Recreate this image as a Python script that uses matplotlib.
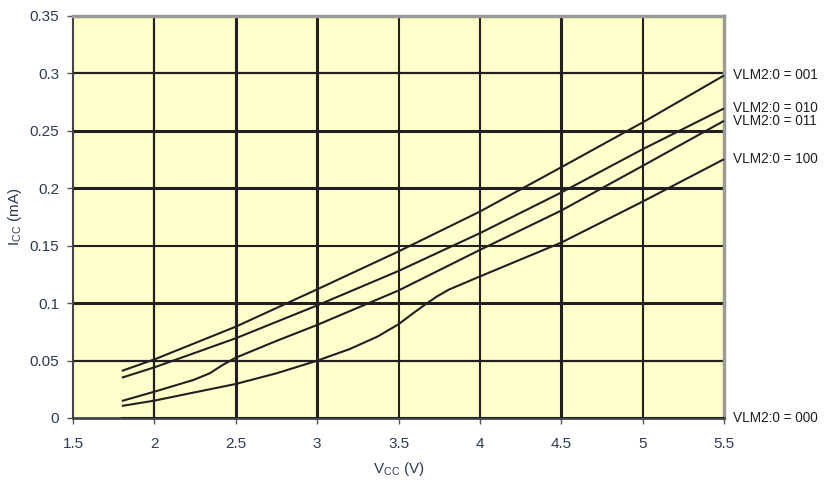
import matplotlib
matplotlib.use("Agg")
import matplotlib.pyplot as plt
from matplotlib.ticker import FixedLocator

# Data
vcc_001 = [1.8, 2.0, 2.5, 3.0, 3.5, 4.0, 4.5, 5.0, 5.5]
icc_001 = [0.041, 0.051, 0.0795, 0.112, 0.145, 0.1797, 0.2183, 0.2573, 0.2982]
vcc_010 = [1.8, 2.0, 2.5, 3.0, 3.5, 4.0, 4.5, 5.0, 5.5]
icc_010 = [0.0351, 0.0441, 0.0694, 0.098, 0.128, 0.1609, 0.1963, 0.234, 0.2695]
vcc_011 = [1.8, 2.0, 2.24, 2.34, 2.42, 2.5, 2.75, 3.0, 3.5, 4.0, 4.5, 5.0, 5.5]
icc_011 = [0.0148, 0.0229, 0.0331, 0.0389, 0.0462, 0.0525, 0.0671, 0.081, 0.111, 0.1463, 0.1806, 0.2195, 0.2587]
vcc_100 = [1.8, 2.0, 2.24, 2.5, 2.75, 3.0, 3.2, 3.37, 3.5, 3.59, 3.66, 3.735, 3.81, 4.0, 4.5, 5.0, 5.5]
icc_100 = [0.0105, 0.0151, 0.0221, 0.0296, 0.0389, 0.0499, 0.060, 0.0708, 0.0816, 0.0912, 0.0984, 0.1057, 0.1118, 0.1232, 0.1527, 0.1884, 0.2253]
vcc_000 = [1.8, 5.5]
icc_000 = [0, 0]
series_labels = ["VLM2:0 = 001", "VLM2:0 = 010", "VLM2:0 = 011", "VLM2:0 = 100", "VLM2:0 = 000"]
x_ticks = [1.5, 2, 2.5, 3, 3.5, 4, 4.5, 5, 5.5]
x_tick_labels = ["1.5", "2", "2.5", "3", "3.5", "4", "4.5", "5", "5.5"]
y_ticks = [0, 0.05, 0.1, 0.15, 0.2, 0.25, 0.3, 0.35]
y_tick_labels = ["0", "0.05", "0.1", "0.15", "0.2", "0.25", "0.3", "0.35"]

fig = plt.figure(figsize=(8.28, 4.84), dpi=100)
ax = fig.add_axes([0.0882, 0.1364, 0.7862, 0.8306])
ax.set_facecolor("#FFFFCC")
ax.set_xlim(1.5, 5.5)
ax.set_ylim(0, 0.35)

grid_col = "#231F20"
# vertical grid lines (varying weights as in the reference)
vwidths = {2: 1.6, 2.5: 2.2, 3: 2.2, 3.5: 1.5, 4: 1.5, 4.5: 2.2, 5: 1.5}
for xv, w in vwidths.items():
    ax.axvline(xv, color=grid_col, lw=w, zorder=1)
hwidths = {0.05: 1.6, 0.1: 2.2, 0.15: 1.5, 0.2: 2.2, 0.25: 2.2, 0.3: 1.6}
for yv, w in hwidths.items():
    ax.axhline(yv, color=grid_col, lw=w, zorder=1)

lc = "#231F20"
lw = 1.5
for xs, ys in [(vcc_001, icc_001), (vcc_010, icc_010), (vcc_011, icc_011), (vcc_100, icc_100)]:
    ax.plot(xs, ys, color=lc, lw=lw, zorder=3, clip_on=False,
            solid_joinstyle="round", solid_capstyle="butt")
ax.plot(vcc_000, icc_000, color=lc, lw=lw, zorder=3)

ends = [icc_001[-1], icc_010[-1], icc_011[-1], icc_100[-1], icc_000[-1]]
for lab, yv in zip(series_labels, ends):
    ax.annotate(lab, xy=(5.5, yv), xytext=(6.5, 0), textcoords="offset points",
                va="center", ha="left", fontsize=9.8, color="#231F20",
                family="Liberation Sans", annotation_clip=False)

ax.xaxis.set_major_locator(FixedLocator(x_ticks))
ax.set_xticklabels(x_tick_labels)
ax.yaxis.set_major_locator(FixedLocator(y_ticks))
ax.set_yticklabels(y_tick_labels)
tick_col = "#2B3A55"
ax.tick_params(axis="both", direction="out", length=4, width=1, color="#555555",
               labelsize=11, labelcolor=tick_col, pad=6)
for t in ax.get_xticklabels() + ax.get_yticklabels():
    t.set_family("Liberation Sans")
ax.tick_params(axis="x", pad=10)

ax.spines["left"].set_color("#444444")
ax.spines["left"].set_linewidth(1.5)
ax.spines["bottom"].set_color("#444444")
ax.spines["bottom"].set_linewidth(2.0)
ax.spines["top"].set_color("#9A9A9A")
ax.spines["top"].set_linewidth(2.5)
ax.spines["right"].set_color("#9A9A9A")
ax.spines["right"].set_linewidth(2.5)

ax.set_xlabel(r"V$_{\mathregular{CC}}$ (V)", fontsize=11, color=tick_col,
              family="Liberation Sans", labelpad=6)
ax.set_ylabel(r"I$_{\mathregular{CC}}$ (mA)", fontsize=11, color=tick_col,
              family="Liberation Sans", labelpad=4)

fig.savefig("out.png", dpi=100)
